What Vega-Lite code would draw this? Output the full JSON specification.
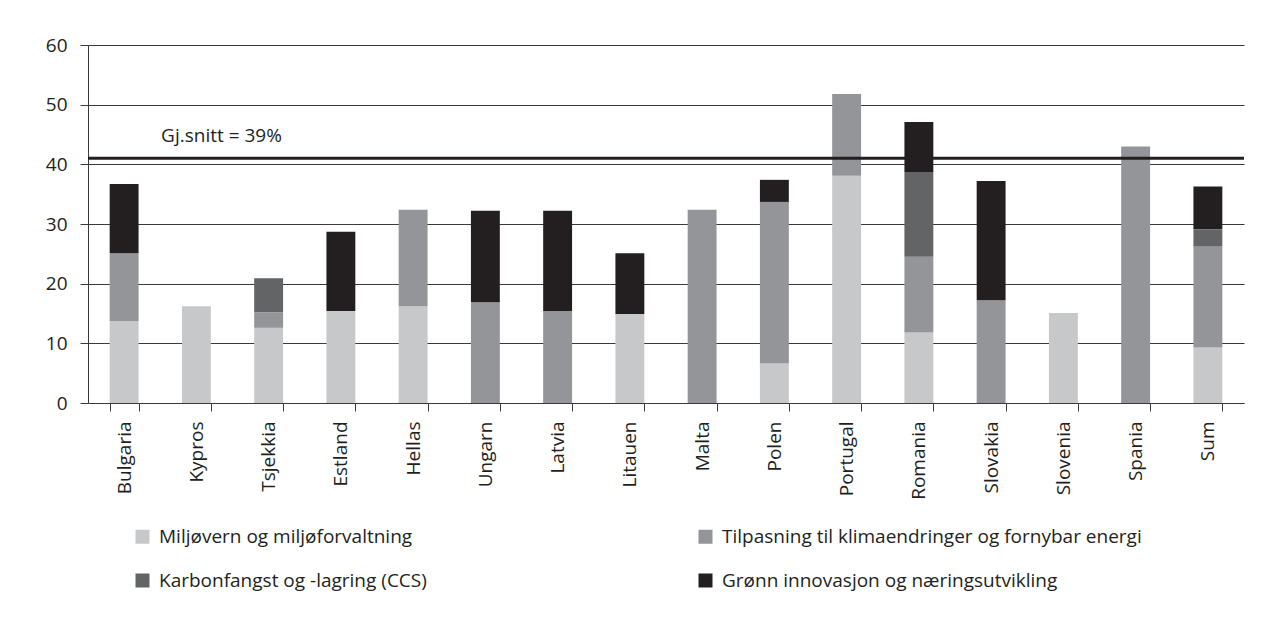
{
  "$schema": "https://vega.github.io/schema/vega-lite/v6.json",
  "autosize": {"type": "none"},
  "padding": {"left": 88, "top": 45, "right": 38, "bottom": 219},
  "width": 1156,
  "height": 358,
  "background": "white",
  "config": {
    "view": {"stroke": null},
    "font": "Open Sans",
    "axis": {"labelFont": "Open Sans", "labelColor": "#231f20"},
    "legend": {"labelFont": "Open Sans"}
  },
  "encoding": {
    "x": {
      "field": "land",
      "type": "nominal",
      "sort": ["Bulgaria", "Kypros", "Tsjekkia", "Estland", "Hellas", "Ungarn", "Latvia", "Litauen", "Malta", "Polen", "Portugal", "Romania", "Slovakia", "Slovenia", "Spania", "Sum"],
      "scale": {"paddingInner": 0.6, "paddingOuter": 0.3},
      "axis": {
        "title": null,
        "tickBand": "extent",
        "labelAngle": -90,
        "labelFontSize": 19,
        "labelPadding": 10,
        "tickSize": 8,
        "tickColor": "#3a3a3a",
        "domainColor": "#3a3a3a",
        "grid": false
      }
    }
  },
  "layer": [
    {
      "data": {
        "values": [
          {"land": "Bulgaria", "nr": 1, "kategori": "Miljøvern og miljøforvaltning", "verdi": 13.7},
          {"land": "Bulgaria", "nr": 2, "kategori": "Tilpasning til klimaendringer og fornybar energi", "verdi": 11.4},
          {"land": "Bulgaria", "nr": 4, "kategori": "Grønn innovasjon og næringsutvikling", "verdi": 11.6},
          {"land": "Kypros", "nr": 1, "kategori": "Miljøvern og miljøforvaltning", "verdi": 16.2},
          {"land": "Tsjekkia", "nr": 1, "kategori": "Miljøvern og miljøforvaltning", "verdi": 12.6},
          {"land": "Tsjekkia", "nr": 2, "kategori": "Tilpasning til klimaendringer og fornybar energi", "verdi": 2.6},
          {"land": "Tsjekkia", "nr": 3, "kategori": "Karbonfangst og -lagring (CCS)", "verdi": 5.7},
          {"land": "Estland", "nr": 1, "kategori": "Miljøvern og miljøforvaltning", "verdi": 15.4},
          {"land": "Estland", "nr": 4, "kategori": "Grønn innovasjon og næringsutvikling", "verdi": 13.3},
          {"land": "Hellas", "nr": 1, "kategori": "Miljøvern og miljøforvaltning", "verdi": 16.2},
          {"land": "Hellas", "nr": 2, "kategori": "Tilpasning til klimaendringer og fornybar energi", "verdi": 16.2},
          {"land": "Ungarn", "nr": 2, "kategori": "Tilpasning til klimaendringer og fornybar energi", "verdi": 16.9},
          {"land": "Ungarn", "nr": 4, "kategori": "Grønn innovasjon og næringsutvikling", "verdi": 15.3},
          {"land": "Latvia", "nr": 2, "kategori": "Tilpasning til klimaendringer og fornybar energi", "verdi": 15.4},
          {"land": "Latvia", "nr": 4, "kategori": "Grønn innovasjon og næringsutvikling", "verdi": 16.8},
          {"land": "Litauen", "nr": 1, "kategori": "Miljøvern og miljøforvaltning", "verdi": 14.9},
          {"land": "Litauen", "nr": 4, "kategori": "Grønn innovasjon og næringsutvikling", "verdi": 10.2},
          {"land": "Malta", "nr": 2, "kategori": "Tilpasning til klimaendringer og fornybar energi", "verdi": 32.4},
          {"land": "Polen", "nr": 1, "kategori": "Miljøvern og miljøforvaltning", "verdi": 6.6},
          {"land": "Polen", "nr": 2, "kategori": "Tilpasning til klimaendringer og fornybar energi", "verdi": 27.1},
          {"land": "Polen", "nr": 4, "kategori": "Grønn innovasjon og næringsutvikling", "verdi": 3.7},
          {"land": "Portugal", "nr": 1, "kategori": "Miljøvern og miljøforvaltning", "verdi": 38.1},
          {"land": "Portugal", "nr": 2, "kategori": "Tilpasning til klimaendringer og fornybar energi", "verdi": 13.7},
          {"land": "Romania", "nr": 1, "kategori": "Miljøvern og miljøforvaltning", "verdi": 11.8},
          {"land": "Romania", "nr": 2, "kategori": "Tilpasning til klimaendringer og fornybar energi", "verdi": 12.7},
          {"land": "Romania", "nr": 3, "kategori": "Karbonfangst og -lagring (CCS)", "verdi": 14.2},
          {"land": "Romania", "nr": 4, "kategori": "Grønn innovasjon og næringsutvikling", "verdi": 8.4},
          {"land": "Slovakia", "nr": 2, "kategori": "Tilpasning til klimaendringer og fornybar energi", "verdi": 17.2},
          {"land": "Slovakia", "nr": 4, "kategori": "Grønn innovasjon og næringsutvikling", "verdi": 20.0},
          {"land": "Slovenia", "nr": 1, "kategori": "Miljøvern og miljøforvaltning", "verdi": 15.1},
          {"land": "Spania", "nr": 2, "kategori": "Tilpasning til klimaendringer og fornybar energi", "verdi": 43.0},
          {"land": "Sum", "nr": 1, "kategori": "Miljøvern og miljøforvaltning", "verdi": 9.3},
          {"land": "Sum", "nr": 2, "kategori": "Tilpasning til klimaendringer og fornybar energi", "verdi": 17.0},
          {"land": "Sum", "nr": 3, "kategori": "Karbonfangst og -lagring (CCS)", "verdi": 2.8},
          {"land": "Sum", "nr": 4, "kategori": "Grønn innovasjon og næringsutvikling", "verdi": 7.2}
        ]
      },
      "mark": {"type": "bar"},
      "encoding": {
        "y": {
          "field": "verdi",
          "type": "quantitative",
          "stack": "zero",
          "scale": {"domain": [0, 60], "nice": false},
          "axis": {
            "title": null,
            "values": [0, 10, 20, 30, 40, 50, 60],
            "grid": true,
            "gridColor": "#3a3a3a",
            "gridWidth": 1,
            "domainColor": "#3a3a3a",
            "tickColor": "#3a3a3a",
            "tickSize": 8,
            "labelPadding": 13,
            "labelFontSize": 19
          }
        },
        "order": {"field": "nr", "type": "quantitative", "sort": "ascending"},
        "color": {
          "field": "kategori",
          "type": "nominal",
          "scale": {
            "domain": [
              "Miljøvern og miljøforvaltning",
              "Tilpasning til klimaendringer og fornybar energi",
              "Karbonfangst og -lagring (CCS)",
              "Grønn innovasjon og næringsutvikling"
            ],
            "range": ["#c7c8ca", "#939598", "#636466", "#231f20"]
          },
          "legend": {
            "title": null,
            "orient": "none",
            "legendX": 45,
            "legendY": 482,
            "direction": "horizontal",
            "columns": 2,
            "padding": 0,
            "symbolType": "square",
            "symbolSize": 196,
            "symbolStrokeWidth": 0,
            "symbolOpacity": 1,
            "labelFontSize": 19,
            "labelColor": "#231f20",
            "labelOffset": 7,
            "labelLimit": 600,
            "columnPadding": 269,
            "rowPadding": 24
          }
        }
      }
    },
    {
      "data": {"values": [{"snitt": 41}]},
      "mark": {"type": "rule", "color": "#231f20", "strokeWidth": 3},
      "encoding": {"y": {"field": "snitt", "type": "quantitative"}, "x": null}
    },
    {
      "data": {"values": [{"land": "Kypros", "y": 44.7, "tekst": "Gj.snitt = 39%"}]},
      "mark": {"type": "text", "align": "left", "baseline": "middle", "fontSize": 19, "color": "#231f20", "font": "Open Sans"},
      "encoding": {
        "x": {"field": "land", "type": "nominal", "bandPosition": -0.72},
        "y": {"field": "y", "type": "quantitative"},
        "text": {"field": "tekst"}
      }
    }
  ]
}
